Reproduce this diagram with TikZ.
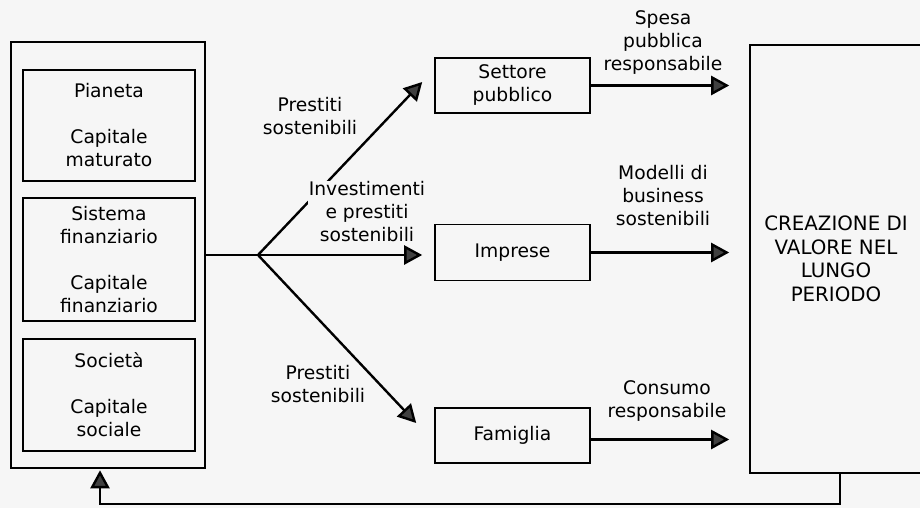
\documentclass[tikz,border=0pt]{standalone}
\usepackage{fontspec}
\setmainfont{DejaVu Sans}
\usetikzlibrary{arrows.meta}
\definecolor{paper}{gray}{0.965}
\definecolor{headgray}{gray}{0.25}
\begin{document}
\begin{tikzpicture}[x=1pt,y=-1pt,
  lbl/.style={align=center, inner sep=0pt, font=\fontsize{18.7}{23}\selectfont},
  box/.style={lbl, draw=black, line width=1.6pt},
  link/.style={line width=2.4pt, draw=black},
  flow/.style={link, -{Triangle[length=18pt,width=19pt,fill=headgray]}}]
\useasboundingbox (0,0) rectangle (920,508);
\fill[paper] (0,0) rectangle (920,508);

% capital stocks on the left
\node[box, minimum width=194pt, minimum height=426pt] (risorse) at (108,255) {};
\node[box, minimum width=172pt, minimum height=111pt] (pianeta) at (109,125.5)
  {Pianeta\\[23pt]Capitale\\maturato};
\node[box, minimum width=172pt, minimum height=123pt] (finanza) at (109,259.5)
  {Sistema\\finanziario\\[23pt]Capitale\\finanziario};
\node[box, minimum width=172pt, minimum height=112pt] (societa) at (109,395)
  {Società\\[23pt]Capitale\\sociale};

% economic actors
\node[box, minimum width=155pt, minimum height=55pt] (settore) at (512.5,85.5) {Settore\\pubblico};
\node[box, minimum width=155pt, minimum height=56pt] (imprese) at (512.5,252.5) {Imprese};
\node[box, minimum width=155pt, minimum height=55pt] (famiglia) at (512.5,435.5) {Famiglia};

% long-term value
\node[box, minimum width=172pt, minimum height=428pt, font=\fontsize{19.8}{23.5}\selectfont]
  (valore) at (836,259) {CREAZIONE DI\\VALORE NEL\\LUNGO\\PERIODO};

% branching of the financial flows
\coordinate (hub) at (258,255);
\draw[link] (risorse.east |- hub) -- (hub);
\draw[flow] (hub) -- ([xshift=-12pt,yshift=3.5pt]settore.west);
\draw[flow] (hub) -- ([xshift=-12pt]imprese.west |- hub);
\draw[flow] (hub) -- ([xshift=-18pt,yshift=12.5pt]famiglia.west);

\node[lbl] (l1) at (310,116) {Prestiti\\sostenibili};
\node[lbl, fill=paper, inner sep=1pt] (l2) at (367,212) {Investimenti\\e prestiti\\sostenibili};
\node[lbl] (l3) at (318,384) {Prestiti\\sostenibili};

% flows into long-term value
\draw[flow, shorten >=20pt] (settore.east) -- (settore.east -| valore.west);
\draw[flow, shorten >=20pt] (imprese.east) -- (imprese.east -| valore.west);
\draw[flow, shorten >=20pt] ([yshift=-4pt]famiglia.east) -- ([yshift=-4pt]famiglia.east -| valore.west);

\node[lbl] (l4) at (663,43) {Spesa\\pubblica\\responsabile};
\node[lbl] (l5) at (663,196) {Modelli di\\business\\sostenibili};
\node[lbl] (l6) at (667,401) {Consumo\\responsabile};

% feedback loop
\coordinate (fbR) at (840,504);
\coordinate (fbL) at (100,504);
\draw[flow, shorten >=1.5pt] (valore.south -| fbR) -- (fbR) -- (fbL) -- (risorse.south -| fbL);
\end{tikzpicture}
\end{document}
